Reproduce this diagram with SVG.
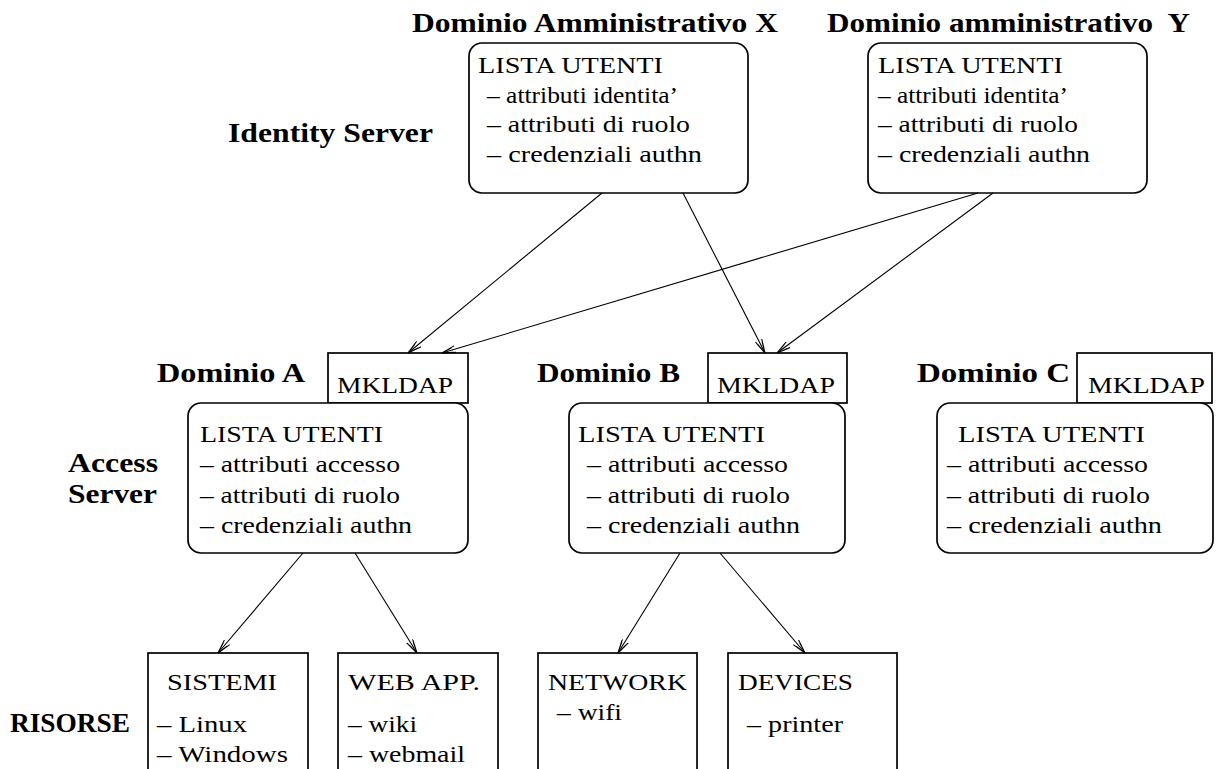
<svg xmlns="http://www.w3.org/2000/svg" width="1216" height="769" viewBox="0 0 1216 769">
<style>
.lbl{font-family:"Liberation Serif","Times New Roman",serif;font-weight:bold;font-size:27px;fill:#000}
.t{font-family:"Liberation Serif","Times New Roman",serif;font-size:24px;fill:#000}
.box{fill:#fff;stroke:#000;stroke-width:1.7}
.con{stroke:#000;stroke-width:1.1;fill:none}
</style>
<defs>
<marker id="ah" viewBox="0 0 14 8" refX="14" refY="4" markerWidth="14" markerHeight="8" markerUnits="userSpaceOnUse" orient="auto">
<path d="M0,0.5 L14,4 L0,7.5 M3,1.5 L14,4 L3,6.5" fill="none" stroke="#000" stroke-width="1.1"/>
</marker>
</defs>
<rect width="1216" height="769" fill="#fff"/>

<g id="labels">
<text class="lbl" x="412" y="32" textLength="366" lengthAdjust="spacingAndGlyphs">Dominio Amministrativo X</text>
<text class="lbl" x="827" y="32" textLength="363" lengthAdjust="spacingAndGlyphs" xml:space="preserve" style="white-space:pre">Dominio amministrativo  Y</text>
<text class="lbl" x="228" y="142" textLength="205" lengthAdjust="spacingAndGlyphs">Identity Server</text>
<text class="lbl" x="157" y="382" textLength="148" lengthAdjust="spacingAndGlyphs">Dominio A</text>
<text class="lbl" x="537" y="382" textLength="143" lengthAdjust="spacingAndGlyphs">Dominio B</text>
<text class="lbl" x="917" y="382" textLength="153" lengthAdjust="spacingAndGlyphs">Dominio C</text>
<text class="lbl" x="68" y="472" textLength="90" lengthAdjust="spacingAndGlyphs">Access</text>
<text class="lbl" x="68" y="503" textLength="89" lengthAdjust="spacingAndGlyphs">Server</text>
<text class="lbl" x="10" y="732" textLength="120" lengthAdjust="spacingAndGlyphs">RISORSE</text>
</g>

<g id="idX">
<rect class="box" x="469" y="43" width="279" height="150" rx="13"/>
<text class="t" x="478" y="73" textLength="185" lengthAdjust="spacingAndGlyphs">LISTA UTENTI</text>
<text class="t" x="487" y="103" textLength="191" lengthAdjust="spacingAndGlyphs">– attributi identita’</text>
<text class="t" x="487" y="132" textLength="203" lengthAdjust="spacingAndGlyphs">– attributi di ruolo</text>
<text class="t" x="487" y="162" textLength="215" lengthAdjust="spacingAndGlyphs">– credenziali authn</text>
</g>

<g id="idY">
<rect class="box" x="868" y="43" width="279" height="150" rx="13"/>
<text class="t" x="878" y="73" textLength="185" lengthAdjust="spacingAndGlyphs">LISTA UTENTI</text>
<text class="t" x="878" y="103" textLength="190" lengthAdjust="spacingAndGlyphs">– attributi identita’</text>
<text class="t" x="878" y="132" textLength="200" lengthAdjust="spacingAndGlyphs">– attributi di ruolo</text>
<text class="t" x="878" y="162" textLength="212" lengthAdjust="spacingAndGlyphs">– credenziali authn</text>
</g>

<g id="mkA">
<rect class="box" x="328" y="353" width="140" height="50"/>
<text class="t" x="337" y="393" textLength="116" lengthAdjust="spacingAndGlyphs">MKLDAP</text>
</g>
<g id="accA">
<rect class="box" x="188" y="403" width="280" height="150" rx="13"/>
<text class="t" x="200" y="442" textLength="183" lengthAdjust="spacingAndGlyphs">LISTA UTENTI</text>
<text class="t" x="200" y="472" textLength="200" lengthAdjust="spacingAndGlyphs">– attributi accesso</text>
<text class="t" x="200" y="503" textLength="200" lengthAdjust="spacingAndGlyphs">– attributi di ruolo</text>
<text class="t" x="200" y="533" textLength="212" lengthAdjust="spacingAndGlyphs">– credenziali authn</text>
</g>

<g id="mkB">
<rect class="box" x="708" y="353" width="139" height="50"/>
<text class="t" x="717" y="393" textLength="118" lengthAdjust="spacingAndGlyphs">MKLDAP</text>
</g>
<g id="accB">
<rect class="box" x="569" y="403" width="276" height="150" rx="13"/>
<text class="t" x="578" y="442" textLength="187" lengthAdjust="spacingAndGlyphs">LISTA UTENTI</text>
<text class="t" x="587" y="472" textLength="201" lengthAdjust="spacingAndGlyphs">– attributi accesso</text>
<text class="t" x="587" y="503" textLength="203" lengthAdjust="spacingAndGlyphs">– attributi di ruolo</text>
<text class="t" x="587" y="533" textLength="213" lengthAdjust="spacingAndGlyphs">– credenziali authn</text>
</g>

<g id="mkC">
<rect class="box" x="1077" y="353" width="135" height="50"/>
<text class="t" x="1088" y="393" textLength="117" lengthAdjust="spacingAndGlyphs">MKLDAP</text>
</g>
<g id="accC">
<rect class="box" x="937" y="403" width="276" height="150" rx="13"/>
<text class="t" x="958" y="442" textLength="187" lengthAdjust="spacingAndGlyphs">LISTA UTENTI</text>
<text class="t" x="947" y="472" textLength="201" lengthAdjust="spacingAndGlyphs">– attributi accesso</text>
<text class="t" x="947" y="503" textLength="203" lengthAdjust="spacingAndGlyphs">– attributi di ruolo</text>
<text class="t" x="947" y="533" textLength="215" lengthAdjust="spacingAndGlyphs">– credenziali authn</text>
</g>

<g id="sistemi">
<rect class="box" x="148" y="653" width="160" height="140"/>
<text class="t" x="167" y="690" textLength="110" lengthAdjust="spacingAndGlyphs">SISTEMI</text>
<text class="t" x="157" y="732" textLength="90" lengthAdjust="spacingAndGlyphs">– Linux</text>
<text class="t" x="157" y="762" textLength="131" lengthAdjust="spacingAndGlyphs">– Windows</text>
</g>
<g id="webapp">
<rect class="box" x="338" y="653" width="160" height="140"/>
<text class="t" x="348" y="690" textLength="132" lengthAdjust="spacingAndGlyphs">WEB APP.</text>
<text class="t" x="348" y="732" textLength="69" lengthAdjust="spacingAndGlyphs">– wiki</text>
<text class="t" x="348" y="762" textLength="117" lengthAdjust="spacingAndGlyphs">– webmail</text>
</g>
<g id="network">
<rect class="box" x="538" y="653" width="159" height="140"/>
<text class="t" x="548" y="690" textLength="139" lengthAdjust="spacingAndGlyphs">NETWORK</text>
<text class="t" x="557" y="720" textLength="65" lengthAdjust="spacingAndGlyphs">– wifi</text>
</g>
<g id="devices">
<rect class="box" x="728" y="653" width="169" height="140"/>
<text class="t" x="738" y="690" textLength="115" lengthAdjust="spacingAndGlyphs">DEVICES</text>
<text class="t" x="747" y="732" textLength="96" lengthAdjust="spacingAndGlyphs">– printer</text>
</g>

<g id="connectors">
<line class="con" x1="602" y1="193" x2="408" y2="353" marker-end="url(#ah)"/>
<line class="con" x1="683" y1="193" x2="765" y2="353" marker-end="url(#ah)"/>
<line class="con" x1="978" y1="193" x2="442" y2="353" marker-end="url(#ah)"/>
<line class="con" x1="993" y1="193" x2="777" y2="353" marker-end="url(#ah)"/>
<line class="con" x1="303" y1="553" x2="218" y2="653" marker-end="url(#ah)"/>
<line class="con" x1="355" y1="553" x2="417" y2="653" marker-end="url(#ah)"/>
<line class="con" x1="680" y1="553" x2="618" y2="653" marker-end="url(#ah)"/>
<line class="con" x1="720" y1="553" x2="805" y2="653" marker-end="url(#ah)"/>
</g>
</svg>
